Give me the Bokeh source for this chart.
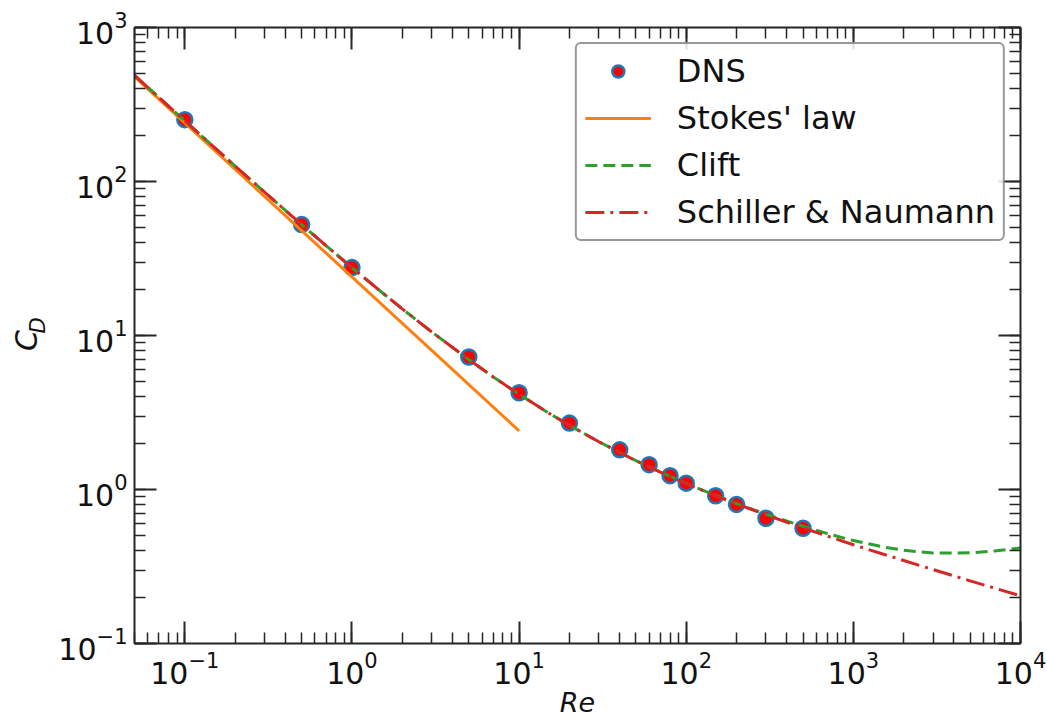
import math
from bokeh.plotting import figure
from bokeh.layouts import row
from bokeh.models import (LogAxis, LogTicker, Legend, LegendItem,
                          Range1d, CustomJSTickFormatter)
from bokeh.core.properties import value
from bokeh.embed import file_html
from bokeh.resources import INLINE

# ---------------- data ----------------
dns_re = [0.1, 0.5, 1, 5, 10, 20, 40, 60, 80, 100, 150, 200, 300, 500]
dns_cd = [252, 52.5, 27.6, 7.25, 4.25, 2.70, 1.81, 1.45, 1.23, 1.10, 0.91, 0.80, 0.65, 0.56]

stokes_re = [0.05, 10]
stokes_cd = [480, 2.4]

curve_re = [0.05, 0.1, 0.2, 0.3, 0.5, 0.7, 1, 1.5, 2, 3, 5, 7, 10, 15, 20, 30, 50, 70,
            100, 150, 200, 300, 500, 700, 1000, 1500, 2000, 3000, 5000, 7000, 10000]
sn_cd = [489.2, 247.4, 125.96, 85.25, 52.47, 38.31, 27.6, 19.17, 14.90, 10.55, 6.975,
         5.386, 4.151, 3.142, 2.610, 2.042, 1.538, 1.295, 1.092, 0.910, 0.806, 0.684,
         0.563, 0.498, 0.438, 0.381, 0.346, 0.302, 0.255, 0.229, 0.204]
clift_cd = [489.2, 247.4, 125.96, 85.25, 52.47, 38.31, 27.6, 19.17, 14.90, 10.55, 6.975,
            5.386, 4.151, 3.142, 2.610, 2.042, 1.539, 1.297, 1.094, 0.914, 0.810, 0.691,
            0.576, 0.517, 0.466, 0.424, 0.403, 0.387, 0.388, 0.399, 0.417]

x_lim = (0.05, 1e4)
y_lim = (0.1, 1000)

FONT = "DejaVu Sans"
INK = "#262626"
TXT = "#111111"

W, H = 1047, 720
LEFT_W = 50          # narrow strip that carries the rotated y-axis title
B_TOP, B_BOTTOM = 27, 77

p = figure(width=W - LEFT_W, height=H, x_axis_type="log", y_axis_type="log",
           x_range=Range1d(*x_lim), y_range=Range1d(*y_lim),
           output_backend="svg", toolbar_location=None,
           min_border_left=134 - LEFT_W, min_border_right=27,
           min_border_top=B_TOP, min_border_bottom=B_BOTTOM)
p.grid.visible = False
p.outline_line_color = None
p.background_fill_color = "white"
p.border_fill_color = "white"


def style_axis(ax):
    ax.ticker = LogTicker(num_minor_ticks=10)
    ax.major_tick_in = 22
    ax.major_tick_out = 0
    ax.minor_tick_in = 11
    ax.minor_tick_out = 0
    ax.major_tick_line_width = 2
    ax.minor_tick_line_width = 1.5
    ax.major_tick_line_color = INK
    ax.minor_tick_line_color = INK
    ax.axis_line_width = 2
    ax.axis_line_color = INK
    ax.major_label_text_font = FONT
    ax.major_label_text_font_size = "30px"
    ax.major_label_text_color = TXT
    ax.major_label_standoff = 7


for ax in p.xaxis + p.yaxis:
    style_axis(ax)

p.xaxis.axis_label = "Re"
p.xaxis.axis_label_text_font = FONT
p.xaxis.axis_label_text_font_style = "italic"
p.xaxis.axis_label_text_font_size = "27px"
p.xaxis.axis_label_text_color = TXT
p.xaxis.axis_label_standoff = 0

top = LogAxis(formatter=CustomJSTickFormatter(code="return ''"))
right = LogAxis(formatter=CustomJSTickFormatter(code="return ''"))
style_axis(top)
style_axis(right)
top.major_label_standoff = 0
right.major_label_standoff = 0
p.add_layout(top, "above")
p.add_layout(right, "right")

# ---------------- glyphs ----------------
r_dns = p.scatter(x=dns_re, y=dns_cd, size=15, fill_color="#ff0000",
                  line_color="#1f77b4", line_width=2.5)
r_st = p.line(x=stokes_re, y=stokes_cd, line_color="#ff7f0e", line_width=3)
r_cl = p.line(x=curve_re, y=clift_cd, line_color="#2ca02c", line_width=3,
              line_dash="12 6")
r_sn = p.line(x=curve_re, y=sn_cd, line_color="#d62728", line_width=3,
              line_dash="19 6 3 6")

legend = Legend(items=[
    LegendItem(label="DNS", renderers=[r_dns]),
    LegendItem(label="Stokes' law", renderers=[r_st]),
    LegendItem(label="Clift", renderers=[r_cl]),
    LegendItem(label="Schiller & Naumann", renderers=[r_sn]),
], location="top_right")
legend.label_text_font = FONT
legend.label_text_font_size = "32px"
legend.label_text_color = TXT
legend.glyph_width = 66
legend.glyph_height = 30
legend.label_height = 30
legend.spacing = 9
legend.padding = 8
legend.margin = 15
legend.label_standoff = 26
legend.border_line_color = "#333333"
legend.border_line_width = 2
legend.border_radius = 6
legend.background_fill_alpha = 0.85
p.add_layout(legend)

# ---------------- y-axis title C_D (rotated), in a narrow side strip ----------------
# the strip's frame is aligned with the main frame; its y range is in pixels from the bottom
side = figure(width=LEFT_W, height=H, x_range=Range1d(0, LEFT_W),
              y_range=Range1d(B_BOTTOM, H - B_TOP),
              output_backend="svg", toolbar_location=None,
              x_axis_location=None, y_axis_location=None,
              min_border_left=0, min_border_right=0,
              min_border_top=B_TOP, min_border_bottom=B_BOTTOM)
side.grid.visible = False
side.outline_line_color = None
side.background_fill_color = "white"
side.border_fill_color = "white"
side.text(x=[26], y=[H - 340], text=["C"], angle=math.pi / 2,
          text_font=value(FONT), text_font_style="italic", text_font_size="30px",
          text_color=TXT, text_align="center", text_baseline="middle")
side.text(x=[37], y=[H - 325], text=["D"], angle=math.pi / 2,
          text_font=value(FONT), text_font_style="italic", text_font_size="21px",
          text_color=TXT, text_align="center", text_baseline="middle")

layout = row(side, p, spacing=0)
open("out.html", "w").write(file_html(layout, INLINE))
